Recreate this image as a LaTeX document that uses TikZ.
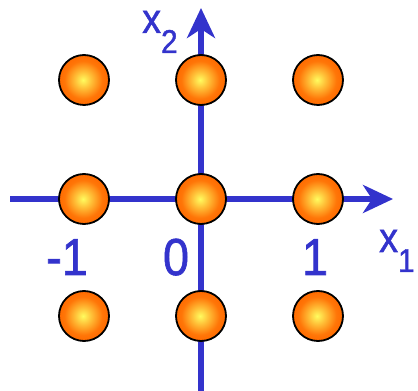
\documentclass[tikz,border=0pt]{standalone}
\usepackage{fontspec}
\usepackage{tikz}
\usetikzlibrary{arrows.meta}
\newfontfamily\lblfont[FakeStretch=0.9,FakeBold=1.2]{Liberation Sans}
\definecolor{axisblue}{RGB}{51,51,204}
\definecolor{ballout}{RGB}{255,106,0}
\definecolor{ballin}{RGB}{255,252,95}
\pgfdeclareradialshading{ballshade}{\pgfpoint{-1bp}{0bp}}{%
  color(0bp)=(ballin); color(8bp)=(ballin!60!ballout);
  color(19bp)=(ballout!92!ballin); color(25bp)=(ballout); color(50bp)=(ballout)}

\begin{document}
\begin{tikzpicture}[x=1pt,y=1pt,
  ball/.style={circle,draw=black,line width=1.8pt,minimum size=50pt,inner sep=0pt,
    shading=ballshade},
  axis/.style={axisblue,line width=6pt,-{Stealth[length=30pt,width=28pt,inset=9pt]}},
  tick/.style={text=axisblue,anchor=base,inner sep=0pt,font=\lblfont\fontsize{52}{52}\selectfont},
  axlabel/.style={text=axisblue,anchor=base west,inner sep=0pt,font=\lblfont\fontsize{42}{42}\selectfont}
]
  \useasboundingbox (0,0) rectangle (418,391);

  % axes
  \coordinate (xstart) at (10,192);
  \coordinate (xend) at (393,192);
  \coordinate (ystart) at (201,0);
  \coordinate (yend) at (201,383);
  \draw[axis] (xstart) -- (xend);
  \draw[axis] (ystart) -- (yend);

  % lattice points
  \foreach \i/\px in {0/84,1/201,2/318}
    \foreach \j/\py in {0/75,1/192,2/311}
      \node[ball] (p-\i-\j) at (\px,\py) {};

  \node[tick] (tm) at (67,116) {-1};
  \node[tick] (tz) at (176,116) {0};
  \node[tick] (tp) at (315,116) {1};

  \node[axlabel] (xone) at (379,139)
    {x\raisebox{-20pt}{\fontsize{33}{33}\selectfont 1}};
  \node[axlabel] (xtwo) at (142,358)
    {x\raisebox{-20pt}{\fontsize{33}{33}\selectfont 2}};
\end{tikzpicture}
\end{document}
